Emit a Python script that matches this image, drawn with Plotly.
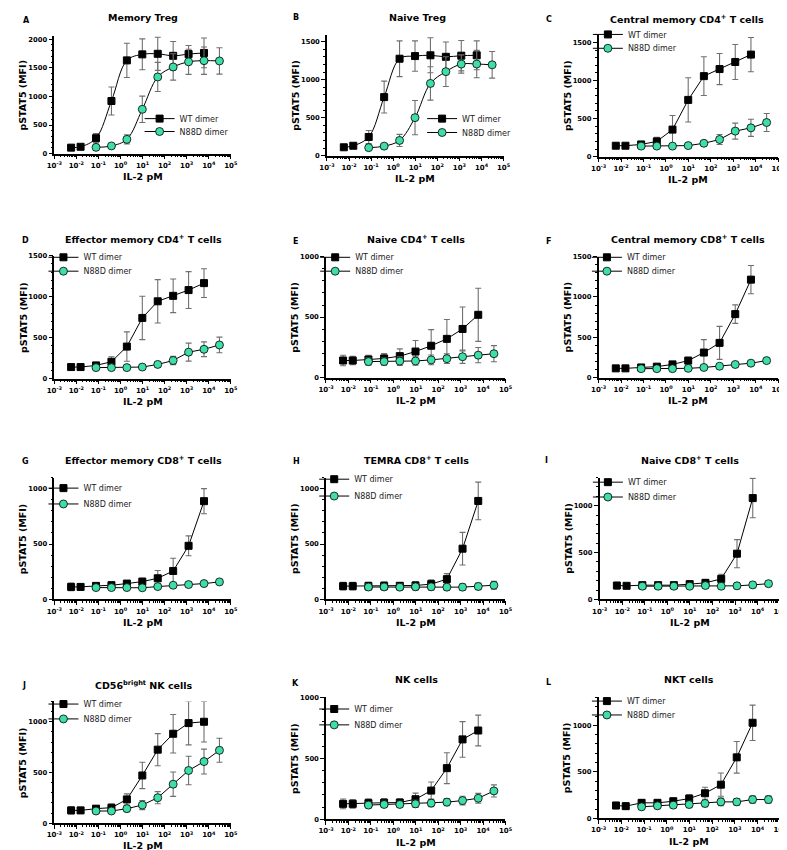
import plotly.graph_objects as go

# ---------------- data ----------------
WT_CONC = [0.0058, 0.0156, 0.078, 0.39, 1.95, 9.77, 48.8, 244, 1220, 6100]
N88D_CONC = [0.078, 0.39, 1.95, 9.77, 48.8, 244, 1220, 6100, 30500]

A_WT = [105, 120, 270, 920, 1630, 1735, 1745, 1710, 1740, 1760]
A_WT_ERR = [20, 25, 80, 245, 300, 270, 290, 250, 150, 260]
A_N88D = [110, 135, 250, 775, 1340, 1515, 1605, 1625, 1620]
A_N88D_ERR = [15, 20, 80, 230, 255, 230, 220, 240, 230]

B_WT = [110, 130, 245, 770, 1275, 1310, 1320, 1300, 1315, 1320]
B_WT_ERR = [20, 25, 85, 210, 235, 200, 230, 195, 200, 190]
B_N88D = [105, 125, 200, 500, 950, 1105, 1205, 1205, 1195]
B_N88D_ERR = [20, 20, 80, 225, 220, 195, 120, 180, 175]

C_WT = [143, 143, 160, 200, 355, 745, 1057, 1150, 1243, 1340]
C_WT_ERR = [20, 20, 25, 55, 185, 290, 255, 205, 230, 225]
C_N88D = [138, 138, 138, 145, 175, 225, 335, 378, 448]
C_N88D_ERR = [15, 15, 15, 20, 35, 65, 105, 112, 118]

D_WT = [140, 140, 160, 205, 390, 740, 943, 1010, 1080, 1165]
D_WT_ERR = [30, 25, 25, 60, 180, 265, 265, 205, 225, 175]
D_N88D = [133, 133, 133, 140, 172, 220, 322, 357, 410]
D_N88D_ERR = [20, 20, 20, 20, 30, 50, 110, 90, 95]

E_WT = [141, 141, 149, 158, 177, 215, 263, 320, 402, 519]
E_WT_ERR = [43, 35, 35, 40, 60, 92, 133, 160, 182, 220]
E_N88D = [132, 132, 136, 137, 146, 156, 172, 185, 197]
E_N88D_ERR = [30, 30, 35, 35, 40, 40, 55, 63, 67]

F_WT = [114, 114, 125, 135, 163, 210, 310, 430, 787, 1215]
F_WT_ERR = [15, 15, 20, 20, 25, 40, 160, 205, 115, 175]
F_N88D = [110, 110, 110, 114, 125, 140, 162, 178, 210]
F_N88D_ERR = [10, 10, 10, 10, 12, 15, 15, 15, 18]

G_WT = [113, 113, 122, 128, 143, 161, 191, 257, 484, 887]
G_WT_ERR = [35, 30, 30, 30, 25, 30, 70, 115, 90, 113]
G_N88D = [107, 107, 107, 105, 116, 128, 134, 143, 158]
G_N88D_ERR = [15, 15, 15, 15, 15, 15, 20, 20, 15]

H_WT = [120, 120, 121, 123, 123, 126, 138, 183, 458, 889]
H_WT_ERR = [35, 35, 35, 35, 30, 35, 40, 50, 147, 170]
H_N88D = [112, 113, 111, 114, 114, 111, 111, 117, 128]
H_N88D_ERR = [30, 30, 30, 30, 30, 30, 30, 30, 35]

I_WT = [148, 145, 152, 152, 152, 163, 177, 219, 488, 1081]
I_WT_ERR = [35, 25, 25, 30, 30, 30, 35, 50, 150, 210]
I_N88D = [141, 141, 141, 141, 148, 141, 145, 155, 168]
I_N88D_ERR = [25, 25, 25, 25, 30, 30, 30, 30, 30]

J_WT = [127, 127, 144, 154, 235, 471, 725, 882, 987, 1000]
J_WT_ERR = [35, 30, 30, 35, 55, 130, 158, 190, 215, 200]
J_N88D = [121, 121, 144, 180, 252, 385, 520, 608, 719]
J_N88D_ERR = [25, 25, 30, 45, 60, 120, 140, 122, 118]

K_WT = [127, 127, 133, 136, 138, 165, 236, 420, 656, 729]
K_WT_ERR = [40, 35, 35, 35, 30, 50, 70, 127, 146, 126]
K_N88D = [117, 122, 122, 127, 133, 141, 154, 173, 233]
K_N88D_ERR = [25, 25, 25, 30, 30, 30, 35, 40, 50]

L_WT = [138, 131, 167, 167, 184, 213, 270, 362, 656, 1028]
L_WT_ERR = [35, 35, 35, 30, 35, 40, 65, 125, 170, 190]
L_N88D = [124, 135, 142, 149, 160, 177, 177, 202, 202]
L_N88D_ERR = [30, 30, 30, 35, 35, 40, 35, 40, 40]

PANEL_LETTERS = ["A", "B", "C", "D", "E", "F", "G", "H", "I", "J", "K", "L"]
PANEL_TITLES = [
    "Memory Treg", "Naive Treg", "Central memory CD4<sup>+</sup> T cells",
    "Effector memory CD4<sup>+</sup> T cells", "Naive CD4<sup>+</sup> T cells",
    "Central memory CD8<sup>+</sup> T cells", "Effector memory CD8<sup>+</sup> T cells",
    "TEMRA CD8<sup>+</sup> T cells", "Naive CD8<sup>+</sup> T cells",
    "CD56<sup>bright</sup> NK cells", "NK cells", "NKT cells",
]
WT_SERIES = [A_WT, B_WT, C_WT, D_WT, E_WT, F_WT, G_WT, H_WT, I_WT, J_WT, K_WT, L_WT]
WT_ERRS = [A_WT_ERR, B_WT_ERR, C_WT_ERR, D_WT_ERR, E_WT_ERR, F_WT_ERR, G_WT_ERR, H_WT_ERR,
           I_WT_ERR, J_WT_ERR, K_WT_ERR, L_WT_ERR]
N_SERIES = [A_N88D, B_N88D, C_N88D, D_N88D, E_N88D, F_N88D, G_N88D, H_N88D, I_N88D, J_N88D,
            K_N88D, L_N88D]
N_ERRS = [A_N88D_ERR, B_N88D_ERR, C_N88D_ERR, D_N88D_ERR, E_N88D_ERR, F_N88D_ERR, G_N88D_ERR,
          H_N88D_ERR, I_N88D_ERR, J_N88D_ERR, K_N88D_ERR, L_N88D_ERR]
Y_MAX = [2060, 1590, 1600, 1500, 1000, 1500, 1100, 1100, 1300, 1200, 1000, 1300]
Y_TICKS = [
    [0, 500, 1000, 1500, 2000], [0, 500, 1000, 1500], [0, 500, 1000, 1500],
    [0, 500, 1000, 1500], [0, 500, 1000], [0, 500, 1000, 1500],
    [0, 500, 1000], [0, 500, 1000], [0, 500, 1000],
    [0, 500, 1000], [0, 500, 1000], [0, 500, 1000],
]
X_TICKS = [1e-3, 1e-2, 1e-1, 1e0, 1e1, 1e2, 1e3, 1e4, 1e5]
X_TICKTEXT = ["10<sup>-3</sup>", "10<sup>-2</sup>", "10<sup>-1</sup>", "10<sup>0</sup>",
              "10<sup>1</sup>", "10<sup>2</sup>", "10<sup>3</sup>", "10<sup>4</sup>",
              "10<sup>5</sup>"]

# ---------------- layout geometry (pixels) ----------------
W, H = 787, 850
BOXES = [  # left, right, top, bottom
    (39, 219, 24, 143), (317, 497, 23, 145), (594, 777, 23, 146),
    (39, 219, 246, 370), (316, 499, 247, 369), (594, 777, 247, 369),
    (39, 219, 470, 593), (316, 499, 470, 593), (595, 779, 470, 593),
    (39, 219, 696, 819), (316, 499, 692, 815), (594, 779, 692, 814),
]
LEGEND_POS = [  # marker x, WT y, N88D y
    (150, 118, 131), (438, 118, 132), (607, 33, 47),
    (52, 258, 272), (329, 258, 272), (606, 258, 272),
    (52, 491, 507), (328, 482, 499), (607, 485, 500),
    (52, 709, 724), (328, 714, 730), (606, 706, 720),
]
TITLE_POS = [
    (129, 6), (409, 6), (684, 7),
    (130, 229), (408, 229), (685, 229),
    (130, 452), (408, 452), (687, 452),
    (130, 679), (408, 674), (686, 674),
]
LETTER_POS = [
    (5, 9), (280, 6), (538, 8),
    (4, 231), (280, 232), (538, 232),
    (4, 454), (280, 454), (537, 453),
    (4, 680), (279, 678), (538, 677),
]
FIT_PANELS = [0, 1]

FONT = "DejaVu Sans"
GREEN = "#3FDDAA"
ERRC = "#707070"

minor_x = [k * 10 ** d for d in range(-3, 5) for k in range(2, 10)]

fig = go.Figure()
layout = dict(
    width=W, height=H, margin=dict(l=0, r=0, t=0, b=0),
    paper_bgcolor="white", plot_bgcolor="white", showlegend=True,
    font=dict(family=FONT, color="black"),
)
annotations = []

for i in range(12):
    n = i + 1
    sfx = "" if n == 1 else str(n)
    xa, ya = "x" + sfx, "y" + sfx
    l, r, t, b = BOXES[i]
    shape = "spline" if i in FIT_PANELS else "linear"
    lg_wt = "legend" + ("" if i == 0 else str(2 * i + 1))
    lg_n = "legend" + str(2 * i + 2)

    fig.add_trace(go.Scatter(
        x=WT_CONC, y=WT_SERIES[i], xaxis=xa, yaxis=ya, name="WT dimer",
        mode="lines+markers", line=dict(color="black", width=1, shape=shape),
        marker=dict(symbol="square", size=7, color="black", line=dict(color="black", width=1)),
        error_y=dict(type="data", array=WT_ERRS[i], color=ERRC, thickness=1.1, width=3),
        legend=lg_wt, cliponaxis=False,
    ))
    fig.add_trace(go.Scatter(
        x=N88D_CONC, y=N_SERIES[i], xaxis=xa, yaxis=ya, name="N88D dimer",
        mode="lines+markers", line=dict(color="black", width=1, shape=shape),
        marker=dict(symbol="circle", size=8, color=GREEN, line=dict(color="black", width=0.8)),
        error_y=dict(type="data", array=N_ERRS[i], color=ERRC, thickness=1.1, width=3),
        legend=lg_n, cliponaxis=False,
    ))

    layout["xaxis" + sfx] = dict(
        type="log", range=[-3, 5], domain=[l / W, r / W], anchor=ya,
        showline=True, linecolor="black", linewidth=1.5, showgrid=False, zeroline=False,
        ticks="outside", ticklen=4, tickwidth=1, tickcolor="black",
        tickmode="array", tickvals=X_TICKS, ticktext=X_TICKTEXT,
        tickfont=dict(family=FONT, size=7, weight="bold", color="black"),
        minor=dict(tickmode="array", tickvals=minor_x, ticks="outside", ticklen=2,
                   tickwidth=0.8, tickcolor="black", showgrid=False),
    )
    layout["yaxis" + sfx] = dict(
        range=[0, Y_MAX[i]], domain=[1 - b / H, 1 - t / H], anchor=xa,
        showline=True, linecolor="black", linewidth=1.5, showgrid=False, zeroline=False,
        ticks="outside", ticklen=4, tickwidth=1, tickcolor="black",
        tickmode="array", tickvals=Y_TICKS[i],
        tickfont=dict(family=FONT, size=6.8, weight="bold", color="black"),
        minor=dict(tickmode="linear", tick0=0, dtick=100, ticks="outside", ticklen=2,
                   tickwidth=0.8, tickcolor="black", showgrid=False),
    )

    mx, wy, ny = LEGEND_POS[i]
    for lg, yy in ((lg_wt, wy), (lg_n, ny)):
        layout[lg] = dict(
            x=(mx - 24) / W, y=1 - (yy - 25) / H, xref="paper", yref="paper",
            xanchor="left", yanchor="top", bgcolor="rgba(0,0,0,0)", borderwidth=0,
            font=dict(family=FONT, size=8, color="#222"),
        )

    tx, ty = TITLE_POS[i]
    annotations.append(dict(
        text="<b>" + PANEL_TITLES[i] + "</b>", x=tx / W, y=1 - ty / H, xref="paper", yref="paper",
        xanchor="center", yanchor="middle", showarrow=False,
        font=dict(family=FONT, size=9.5, color="black"),
    ))
    lx, ly = LETTER_POS[i]
    annotations.append(dict(
        text="<b>" + PANEL_LETTERS[i] + "</b>", x=lx / W, y=1 - ly / H, xref="paper", yref="paper",
        xanchor="left", yanchor="middle", showarrow=False,
        font=dict(family=FONT, size=8, color="black"),
    ))
    annotations.append(dict(
        text="<b>pSTAT5 (MFI)</b>", x=(l - 32) / W, y=1 - ((t + b) / 2) / H,
        xref="paper", yref="paper", xanchor="center", yanchor="middle", textangle=-90,
        showarrow=False, font=dict(family=FONT, size=9.5, color="black"),
    ))
    annotations.append(dict(
        text="<b>IL-2 pM</b>", x=((l + r) / 2) / W, y=1 - min(b + 23.5, 841) / H,
        xref="paper", yref="paper", xanchor="center", yanchor="middle",
        showarrow=False, font=dict(family=FONT, size=9.5, color="black"),
    ))

layout["annotations"] = annotations
fig.update_layout(**layout)
fig.write_html("out.html")
